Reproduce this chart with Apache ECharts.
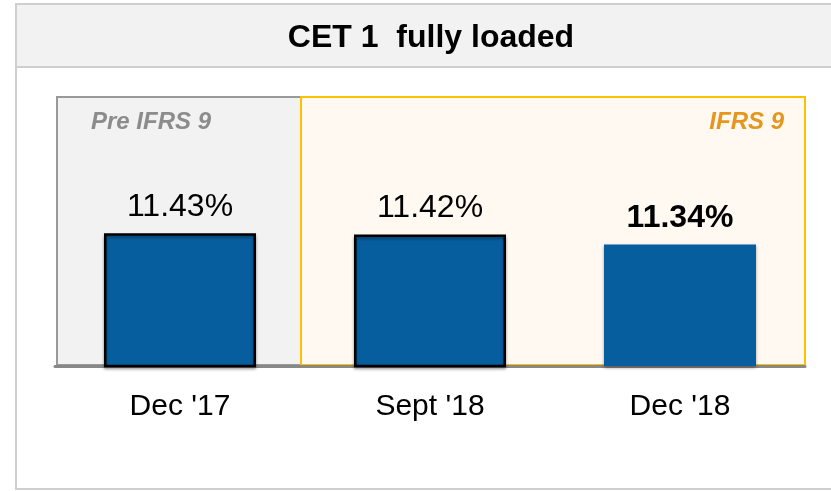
<!DOCTYPE html>
<html>
<head>
<meta charset="utf-8">
<script src="https://cdn.jsdelivr.net/npm/echarts@6/dist/echarts.min.js"></script>
<style>
    html, body { margin: 0; padding: 0; background: #fff; }
    #chart { width: 831px; height: 491px; }
</style>
</head>
<body>
<div id="chart"></div>
<script>
const chartTitle = "CET 1  fully loaded";
const categories = ["Dec '17", "Sept '18", "Dec '18"];
const cet1Values = [11.43, 11.42, 11.34];
const periodLabels = ["Pre IFRS 9", "IFRS 9"];

const FONT = "Liberation Sans, Arial, sans-serif";

const chart = echarts.init(document.getElementById("chart"));

const option = {
    animation: false,
    grid: {
        left: 55,
        right: 26,
        top: 97,
        bottom: 125,
    },
    xAxis: {
        type: "category",
        data: categories,
        axisTick: { show: false },
        axisLine: {
            lineStyle: { color: "#888", width: 3 },
        },
        axisLabel: {
            fontFamily: FONT,
            fontSize: 30,
            color: "#000",
            margin: 26,
        },
    },
    yAxis: {
        type: "value",
        min: 10.35,
        max: 12.54,
        show: false,
    },
    graphic: [
        // outer frame + title bar
        {
            type: "rect",
            z: -2,
            shape: { x: 16, y: 4, width: 830, height: 485 },
            style: { fill: "#fff", stroke: "#cfcfcf", lineWidth: 2 },
        },
        {
            type: "rect",
            z: -1,
            shape: { x: 16, y: 4, width: 830, height: 63 },
            style: { fill: "#f2f2f2", stroke: "#cfcfcf", lineWidth: 2 },
        },
        {
            type: "text",
            z: 1,
            x: 431,
            y: 38,
            style: {
                text: chartTitle,
                font: "bold 32px " + FONT,
                fill: "#000",
                textAlign: "center",
                textVerticalAlign: "middle",
            },
        },
        // period panels
        {
            type: "rect",
            z: -1,
            shape: { x: 57, y: 97, width: 244, height: 268 },
            style: { fill: "#f2f2f2", stroke: "#999", lineWidth: 2 },
        },
        {
            type: "rect",
            z: -1,
            shape: { x: 301, y: 97, width: 504, height: 268 },
            style: { fill: "#fff9f2", stroke: "#ffc000", lineWidth: 2 },
        },
        {
            type: "text",
            z: 1,
            left: 91,
            top: 110,
            style: {
                text: periodLabels[0],
                font: "italic bold 24px " + FONT,
                fill: "#8c8c8c",
            },
        },
        {
            type: "text",
            z: 1,
            right: 47,
            top: 110,
            style: {
                text: periodLabels[1],
                font: "italic bold 24px " + FONT,
                fill: "#e5961e",
                textAlign: "right",
            },
        },
    ],
    series: [
        {
            type: "bar",
            barWidth: 152,
            data: cet1Values.map((v, i) => {
                const latest = i === cet1Values.length - 1;
                return {
                    value: v,
                    itemStyle: latest
                        ? { borderWidth: 0 }
                        : { borderColor: "#000", borderWidth: 2.5 },
                    label: { fontWeight: latest ? "bold" : "normal" },
                };
            }),
            itemStyle: {
                color: "#075e9f",
                shadowColor: "rgba(0,0,0,0.35)",
                shadowBlur: 3,
                shadowOffsetY: 2,
            },
            label: {
                show: true,
                position: "top",
                distance: 10,
                fontFamily: FONT,
                fontSize: 32,
                color: "#000",
                formatter: (p) => p.value.toFixed(2) + "%",
            },
        },
    ],
};

chart.setOption(option);
</script>
</body>
</html>
